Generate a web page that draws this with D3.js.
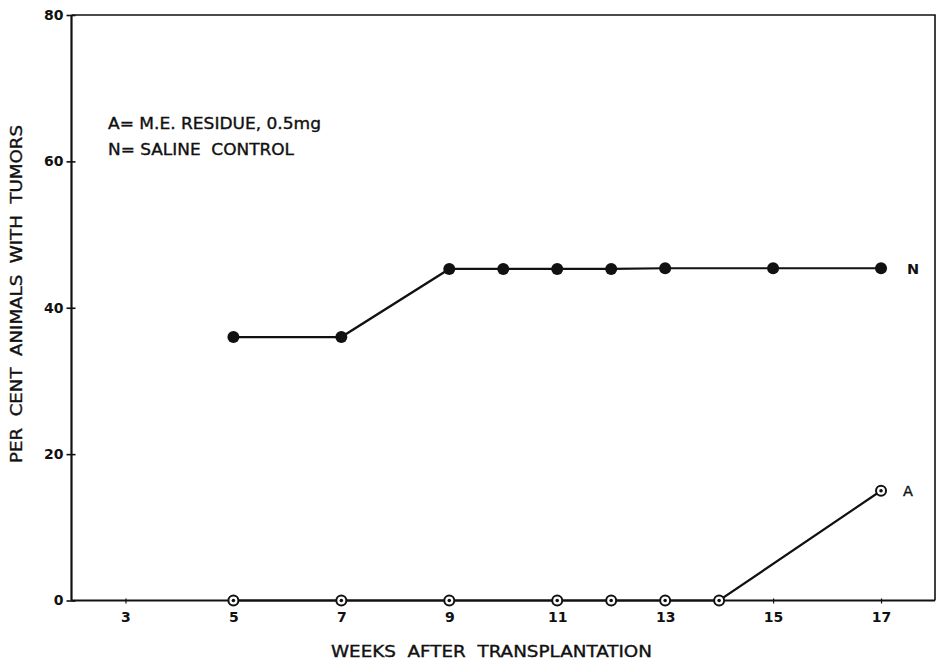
<!DOCTYPE html>
<html>
<head>
<meta charset="utf-8">
<script src="https://cdn.jsdelivr.net/npm/d3@7/dist/d3.min.js"></script>
<style>
  html, body { margin: 0; padding: 0; background: #fff; }
  svg { display: block; }
  text { font-family: "DejaVu Sans", "Liberation Sans", sans-serif; fill: #111; white-space: pre; }
  .lettering { stroke: #111; stroke-width: 0.35; }
</style>
</head>
<body>
<svg id="chart" width="938" height="663"></svg>
<script>
// Weeks after transplantation and per cent of animals with tumors
const weeksN = [5, 7, 9, 10, 11, 12, 13, 15, 17];
const valuesN = [36, 36, 45.3, 45.3, 45.3, 45.3, 45.4, 45.4, 45.4];

const weeksA = [5, 7, 9, 11, 12, 13, 14, 17];
const valuesA = [0, 0, 0, 0, 0, 0, 0, 15];

const xTicks = [3, 5, 7, 9, 11, 13, 15, 17];
const yTicks = [0, 20, 40, 60, 80];

const legendLines = ["A= M.E. RESIDUE, 0.5mg", "N= SALINE  CONTROL"];
const xTitle = "WEEKS  AFTER  TRANSPLANTATION";
const yTitle = "PER  CENT  ANIMALS  WITH  TUMORS";

const svg = d3.select("#chart");
const plotL = 71.5, plotR = 935, plotT = 15, plotB = 600.5;

const x = d3.scaleLinear().domain([2, 18]).range([plotL, plotR]);
const y = d3.scaleLinear().domain([0, 80]).range([plotB, plotT]);

// frame: top and right edges
svg.append("path")
  .attr("d", `M${plotL},${plotT}H${plotR}V${plotB}`)
  .attr("fill", "none").attr("stroke", "#111").attr("stroke-width", 1.6);

// x axis
const xAxis = svg.append("g").attr("transform", `translate(0,${plotB})`)
  .call(d3.axisBottom(x).tickValues(xTicks).tickSize(4).tickPadding(4).tickFormat(d3.format("d")));
xAxis.select(".domain").attr("stroke", "#111").attr("stroke-width", 2.2)
  .attr("d", `M${plotL},0H${plotR}`);
xAxis.selectAll(".tick line").attr("stroke", "#111").attr("stroke-width", 1.2).attr("y1", -2).attr("y2", 3);
xAxis.selectAll(".tick text").attr("font-size", 14).attr("font-weight", "bold")
  .attr("fill", "#111").attr("dy", "0.95em");

// y axis
const yAxis = svg.append("g").attr("transform", `translate(${plotL},0)`)
  .call(d3.axisLeft(y).tickValues(yTicks).tickSize(5).tickPadding(4).tickFormat(d3.format("d")));
yAxis.select(".domain").attr("stroke", "#111").attr("stroke-width", 2.2)
  .attr("d", `M0,${plotB}V${plotT}`);
yAxis.selectAll(".tick line").attr("stroke", "#111").attr("stroke-width", 1.6).attr("x1", 4).attr("x2", -5);
yAxis.selectAll(".tick text").attr("font-size", 14).attr("font-weight", "bold").attr("fill", "#111")
  .attr("x", -8);

// series lines
const line = d3.line().x(d => x(d[0])).y(d => y(d[1]));
const ptsN = weeksN.map((w, i) => [w, valuesN[i]]);
const ptsA = weeksA.map((w, i) => [w, valuesA[i]]);

svg.append("path").datum(ptsN).attr("d", line)
  .attr("fill", "none").attr("stroke", "#111").attr("stroke-width", 2.2);
svg.append("path").datum(ptsA).attr("d", line)
  .attr("fill", "none").attr("stroke", "#111").attr("stroke-width", 2.2);

// N markers: filled dots
svg.append("g").selectAll("circle").data(ptsN).join("circle")
  .attr("cx", d => x(d[0])).attr("cy", d => y(d[1])).attr("r", 6).attr("fill", "#111");

// A markers: open circle with centre dot
const gA = svg.append("g");
gA.selectAll("circle.o").data(ptsA).join("circle").attr("class", "o")
  .attr("cx", d => x(d[0])).attr("cy", d => y(d[1])).attr("r", 5)
  .attr("fill", "#fff").attr("stroke", "#111").attr("stroke-width", 2);
gA.selectAll("circle.c").data(ptsA).join("circle").attr("class", "c")
  .attr("cx", d => x(d[0])).attr("cy", d => y(d[1])).attr("r", 1.8).attr("fill", "#111");

// series end labels
svg.append("text").attr("x", x(17) + 26).attr("y", y(valuesN[valuesN.length - 1]) + 5.5)
  .attr("font-size", 14.5).attr("font-weight", "bold").text("N");
svg.append("text").attr("class", "lettering").attr("x", x(17) + 22).attr("y", y(valuesA[valuesA.length - 1]) + 5.5)
  .attr("font-size", 14.5).text("A");

// legend
const legendWidths = [213, 186];
legendLines.forEach((t, i) => {
  svg.append("text").attr("class", "lettering").attr("x", 108).attr("y", 129 + i * 26)
    .attr("font-size", 15).attr("textLength", legendWidths[i]).attr("lengthAdjust", "spacingAndGlyphs")
    .text(t);
});

// axis titles
svg.append("text").attr("class", "lettering").attr("x", 331).attr("y", 657)
  .attr("font-size", 15).attr("textLength", 321).attr("lengthAdjust", "spacingAndGlyphs")
  .text(xTitle);
svg.append("text").attr("class", "lettering").attr("transform", "translate(22,463) rotate(-90)")
  .attr("font-size", 15).attr("textLength", 338).attr("lengthAdjust", "spacingAndGlyphs")
  .text(yTitle);
</script>
</body>
</html>
